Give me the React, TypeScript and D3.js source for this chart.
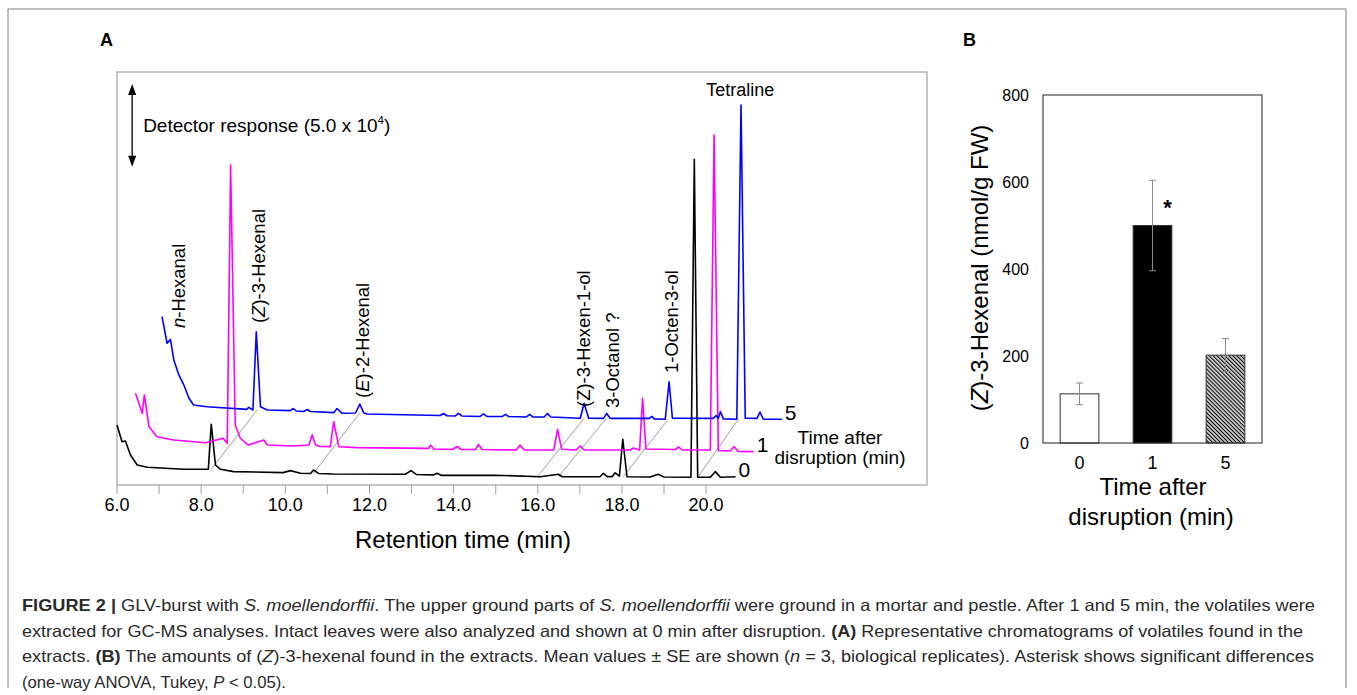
import React, { useEffect, useRef } from 'react';
import * as d3 from 'd3';

// Panel A: chromatograms as plotted, [retention time (min), response (x10^4)]
const trace0 = [[6.00,3.63],[6.12,2.62],[6.20,2.66],[6.32,1.82],[6.48,1.21],[6.72,1.07],[7.58,0.95],[8.17,0.95],[8.24,3.67],[8.34,1.21],[8.46,0.95],[8.77,0.81],[9.95,0.75],[10.12,0.87],[10.36,0.71],[10.60,0.70],[10.67,0.91],[10.79,0.70],[11.14,0.67],[12.85,0.65],[12.99,0.87],[13.11,0.64],[13.52,0.61],[13.61,0.71],[13.71,0.58],[14.99,0.59],[16.06,0.50],[16.49,0.65],[16.58,0.50],[17.48,0.50],[17.56,0.71],[17.65,0.51],[17.77,0.51],[17.84,0.74],[17.94,0.54],[18.02,2.77],[18.12,0.50],[18.67,0.48],[18.86,0.65],[19.00,0.48],[19.64,0.47],[19.72,19.72],[19.80,0.47],[20.10,0.47],[20.22,0.81],[20.34,0.47],[20.70,0.50]];
const trace1 = [[6.44,5.55],[6.60,4.34],[6.65,5.45],[6.76,3.53],[6.95,2.92],[7.35,2.72],[8.10,2.56],[8.52,2.83],[8.62,2.52],[8.70,19.37],[8.81,3.63],[8.93,2.83],[9.12,2.42],[9.49,2.72],[9.57,2.42],[10.20,2.36],[10.56,2.42],[10.64,3.03],[10.72,2.42],[10.83,2.33],[11.07,2.32],[11.15,3.83],[11.27,2.32],[11.71,2.26],[13.41,2.22],[13.45,2.42],[13.53,2.18],[13.97,2.15],[14.08,2.33],[14.18,2.15],[14.52,2.15],[14.59,2.45],[14.68,2.15],[15.49,2.12],[15.58,2.42],[15.68,2.12],[16.38,2.12],[16.47,3.37],[16.57,2.16],[16.91,2.12],[17.01,2.36],[17.10,2.12],[18.20,2.12],[18.27,2.24],[18.42,2.12],[18.49,5.25],[18.57,2.18],[19.27,2.15],[19.35,2.30],[19.43,2.12],[20.10,2.12],[20.19,21.19],[20.29,2.09],[20.57,2.06],[20.67,2.32],[20.76,2.03],[21.13,2.02]];
const trace5 = [[7.07,10.19],[7.19,8.58],[7.27,8.82],[7.35,7.57],[7.47,6.66],[7.59,6.05],[7.71,5.25],[7.82,4.84],[8.14,4.74],[9.09,4.58],[9.13,4.70],[9.23,4.54],[9.31,9.28],[9.41,4.74],[9.57,4.54],[10.12,4.50],[10.19,4.63],[10.26,4.48],[10.43,4.45],[10.52,4.57],[10.60,4.45],[11.15,4.38],[11.23,4.63],[11.35,4.34],[11.67,4.36],[11.77,4.90],[11.86,4.38],[11.94,4.30],[13.68,4.21],[13.76,4.33],[13.84,4.19],[14.04,4.18],[14.12,4.34],[14.19,4.18],[14.63,4.15],[14.71,4.30],[14.79,4.15],[15.16,4.15],[15.23,4.27],[15.30,4.15],[15.73,4.12],[15.81,4.27],[15.88,4.12],[16.15,4.12],[16.23,4.33],[16.31,4.12],[17.01,4.04],[17.10,4.95],[17.21,4.04],[17.56,4.03],[17.64,4.33],[17.72,4.03],[18.65,4.03],[18.71,4.15],[18.77,4.00],[19.03,3.98],[19.12,6.25],[19.20,4.04],[20.17,4.03],[20.24,4.21],[20.29,4.03],[20.34,4.44],[20.41,4.00],[20.73,3.98],[20.83,23.0],[20.93,4.04],[21.21,4.03],[21.28,4.42],[21.36,3.98],[21.80,3.98]];
const traces = [trace0, trace1, trace5];
const traceNames = ['0', '1', '5'];
const traceColors = ['#000000', '#ff00ff', '#0000ff'];

// same compound: black (0 min) peak -> blue (5 min) peak
const linkFrom = [8.24, 10.67, 15.99, 16.49, 18.03, 19.80];
const linkTo = [9.33, 11.77, 17.10, 17.63, 19.10, 20.77];

// rotated peak labels, parts are [text, italic]
const peakLabelParts = [
  [['n', 1], ['-Hexanal', 0]],
  [['(', 0], ['Z', 1], [')-3-Hexenal', 0]],
  [['(', 0], ['E', 1], [')-2-Hexenal', 0]],
  [['(Z)-3-Hexen-1-ol', 0]],
  [['3-Octanol ?', 0]],
  [['1-Octen-3-ol', 0]],
];
const peakLabelTime = [7.46, 9.36, 11.83, 17.08, 17.77, 19.19];
const peakLabelLevel = [9.5, 9.8, 5.27, 4.72, 4.66, 6.78];

const xTicks = d3.range(6, 20.01, 1);
const xLabels = d3.range(6, 20.01, 2);
const arrowTop = 24.27;
const arrowSpan = 5.0;

// Panel B
const groups = ['0', '1', '5'];
const hexenal = [113, 500, 202];
const hexenalSE = [25, 104, 38];
const yTicksB = [0, 200, 400, 600, 800];

const captionLines = [
  [['FIGURE 2 | ', 'b'], ['GLV-burst with ', ''], ['S. moellendorffii', 'i'], ['. The upper ground parts of ', ''], ['S. moellendorffii', 'i'], [' were ground in a mortar and pestle. After 1 and 5 min, the volatiles were', '']],
  [['extracted for GC-MS analyses. Intact leaves were also analyzed and shown at 0 min after disruption. ', ''], ['(A)', 'b'], [' Representative chromatograms of volatiles found in the', '']],
  [['extracts. ', ''], ['(B)', 'b'], [' The amounts of (', ''], ['Z', 'i'], [')-3-hexenal found in the extracts. Mean values \u00b1 SE are shown (', ''], ['n', 'i'], [' = 3, biological replicates). Asterisk shows significant differences', '']],
  [['(one-way ANOVA, Tukey, ', ''], ['P', 'i'], [' < 0.05).', '']],
];
const captionWidths = [1293, 1281, 1292, 264];

const FONT = "'Liberation Sans', Arial, Helvetica, sans-serif";

export default function App() {
  const ref = useRef<SVGSVGElement>(null);

  useEffect(() => {
    const svg = d3.select(ref.current);
    svg.selectAll('*').remove();
    svg.attr('font-family', FONT);

    // outer figure border
    svg.append('path')
      .attr('d', 'M8,688 L8,9 L1346,9 L1346,688')
      .attr('fill', 'none')
      .attr('stroke', '#808080')
      .attr('stroke-width', 1);

    // ---------- panel A ----------
    const x = d3.scaleLinear().domain([6, 25.25]).range([117, 927]);
    const y = d3.scaleLinear().domain([0, 25]).range([485, 72]);

    svg.append('text').attr('x', 100).attr('y', 46)
      .attr('font-size', 18).attr('font-weight', 'bold').text('A');

    svg.append('rect')
      .attr('x', 117).attr('y', 72).attr('width', 810).attr('height', 413)
      .attr('fill', 'none').attr('stroke', '#a8a8a8').attr('stroke-width', 1.3);

    svg.selectAll('.xtick').data(xTicks).join('line')
      .attr('x1', d => x(d)).attr('x2', d => x(d))
      .attr('y1', 485).attr('y2', 494)
      .attr('stroke', '#a0a0a0').attr('stroke-width', 1);
    svg.selectAll('.xlab').data(xLabels).join('text')
      .attr('x', d => x(d)).attr('y', 511)
      .attr('text-anchor', 'middle').attr('font-size', 18)
      .text(d => d3.format('.1f')(d));
    svg.append('text').attr('x', 463).attr('y', 548)
      .attr('text-anchor', 'middle').attr('font-size', 24)
      .text('Retention time (min)');

    // detector scale arrow
    const ax = x(6.36);
    const aTop = y(arrowTop);
    const aBot = y(arrowTop - arrowSpan);
    svg.append('line').attr('x1', ax).attr('x2', ax).attr('y1', aTop + 6).attr('y2', aBot - 6)
      .attr('stroke', '#000').attr('stroke-width', 1.3);
    svg.append('path')
      .attr('d', `M${ax},${aTop} L${ax - 4},${aTop + 11} L${ax + 4},${aTop + 11} Z M${ax},${aBot} L${ax - 4},${aBot - 11} L${ax + 4},${aBot - 11} Z`)
      .attr('fill', '#000');
    const det = svg.append('text').attr('x', ax + 11).attr('y', (aTop + aBot) / 2 + 6.5)
      .attr('font-size', 19);
    det.append('tspan').text('Detector response (5.0 x 10');
    det.append('tspan').attr('font-size', 11.5).attr('dy', -8).text('4');
    det.append('tspan').attr('dy', 8).text(')');

    // links between corresponding peaks
    const footAt = (pts, t) => {
      let best = Infinity;
      pts.forEach(p => { if (Math.abs(p[0] - t) <= 0.16) best = Math.min(best, p[1]); });
      if (best === Infinity) {
        const i = d3.bisector(p => p[0]).left(pts, t);
        best = pts[Math.min(i, pts.length - 1)][1];
      }
      return best;
    };
    svg.selectAll('.link').data(linkFrom).join('line')
      .attr('x1', d => x(d)).attr('y1', d => y(footAt(trace0, d)))
      .attr('x2', (d, i) => x(linkTo[i])).attr('y2', (d, i) => y(footAt(trace5, linkTo[i])))
      .attr('stroke', '#777').attr('stroke-width', 0.7);

    const line = d3.line().x(d => x(d[0])).y(d => y(d[1]));
    svg.selectAll('.trace').data(traces).join('path')
      .attr('d', d => line(d))
      .attr('fill', 'none')
      .attr('stroke', (d, i) => traceColors[i])
      .attr('stroke-width', 1.6)
      .attr('stroke-linejoin', 'round');

    svg.selectAll('.tname').data(traces).join('text')
      .attr('x', d => x(d[d.length - 1][0]) + 3)
      .attr('y', d => y(d[d.length - 1][1]) + 0.5)
      .attr('font-size', 21)
      .text((d, i) => traceNames[i]);

    svg.append('text').attr('x', 840).attr('y', 443.5)
      .attr('text-anchor', 'middle').attr('font-size', 19).text('Time after');
    svg.append('text').attr('x', 840).attr('y', 463.5)
      .attr('text-anchor', 'middle').attr('font-size', 19).text('disruption (min)');

    peakLabelParts.forEach((parts, i) => {
      const px = x(peakLabelTime[i]);
      const py = y(peakLabelLevel[i]);
      const t = svg.append('text')
        .attr('transform', `translate(${px},${py}) rotate(-90)`)
        .attr('dy', '0.35em')
        .attr('font-size', 18.5);
      parts.forEach(p => {
        t.append('tspan').attr('font-style', p[1] ? 'italic' : 'normal').text(p[0]);
      });
    });
    svg.append('text').attr('x', x(20.81)).attr('y', y(23.55))
      .attr('text-anchor', 'middle').attr('font-size', 18).text('Tetraline');

    // ---------- panel B ----------
    svg.append('text').attr('x', 963).attr('y', 46)
      .attr('font-size', 18).attr('font-weight', 'bold').text('B');

    const xb = d3.scaleBand().domain(groups).range([1043, 1262]).paddingInner(0.47).paddingOuter(0.235);
    const yb = d3.scaleLinear().domain([0, 800]).range([443, 95]);

    const defs = svg.append('defs');
    const pat = defs.append('pattern').attr('id', 'hatch')
      .attr('patternUnits', 'userSpaceOnUse').attr('width', 2.8).attr('height', 2.8)
      .attr('patternTransform', 'rotate(-45)');
    pat.append('rect').attr('width', 2.8).attr('height', 2.8).attr('fill', '#fff');
    pat.append('line').attr('x1', 1.4).attr('x2', 1.4).attr('y1', 0).attr('y2', 2.8)
      .attr('stroke', '#000').attr('stroke-width', 1.35);

    const fills = ['#ffffff', '#000000', 'url(#hatch)'];
    svg.selectAll('.bar').data(hexenal).join('rect')
      .attr('x', (d, i) => xb(groups[i]))
      .attr('y', d => yb(d))
      .attr('width', xb.bandwidth())
      .attr('height', d => yb(0) - yb(d))
      .attr('fill', (d, i) => fills[i])
      .attr('stroke', '#333').attr('stroke-width', 1);

    const cx = i => xb(groups[i]) + xb.bandwidth() / 2;
    svg.selectAll('.err').data(hexenal).join('path')
      .attr('d', (d, i) => {
        const hi = yb(d + hexenalSE[i]);
        const lo = yb(d - hexenalSE[i]);
        const c = cx(i);
        return `M${c},${hi} L${c},${lo} M${c - 3.5},${hi} L${c + 3.5},${hi} M${c - 3.5},${lo} L${c + 3.5},${lo}`;
      })
      .attr('fill', 'none').attr('stroke', '#8a8a8a').attr('stroke-width', 1);

    svg.append('text').attr('x', cx(1) + 15).attr('y', yb(hexenal[1] + hexenalSE[1]) + 35)
      .attr('text-anchor', 'middle').attr('font-size', 22).attr('font-weight', 'bold').text('*');

    svg.append('rect')
      .attr('x', 1043).attr('y', 95).attr('width', 219).attr('height', 348)
      .attr('fill', 'none').attr('stroke', '#222').attr('stroke-width', 1);

    svg.selectAll('.ytb').data(yTicksB).join('text')
      .attr('x', 1029).attr('y', d => yb(d)).attr('dy', '0.35em')
      .attr('text-anchor', 'end').attr('font-size', 16)
      .text(d => d);

    svg.selectAll('.xcat').data(groups).join('text')
      .attr('x', (d, i) => cx(i)).attr('y', 469)
      .attr('text-anchor', 'middle').attr('font-size', 18)
      .text(d => d);

    svg.append('text').attr('x', 1153).attr('y', 495)
      .attr('text-anchor', 'middle').attr('font-size', 24).text('Time after');
    svg.append('text').attr('x', 1151).attr('y', 525)
      .attr('text-anchor', 'middle').attr('font-size', 24).text('disruption (min)');

    const yt = svg.append('text')
      .attr('transform', 'translate(988,268) rotate(-90)')
      .attr('text-anchor', 'middle').attr('font-size', 24);
    yt.append('tspan').text('(');
    yt.append('tspan').attr('font-style', 'italic').text('Z');
    yt.append('tspan').text(')-3-Hexenal (nmol/g FW)');

    // ---------- caption ----------
    captionLines.forEach((parts, i) => {
      const t = svg.append('text')
        .attr('x', 22).attr('y', 611 + i * 25.7)
        .attr('font-family', "'Liberation Sans Narrow', 'Liberation Sans', Arial, sans-serif")
        .attr('font-size', 16.5)
        .attr('fill', '#2a2a2a')
        .attr('textLength', captionWidths[i])
        .attr('lengthAdjust', 'spacingAndGlyphs')
        .style('white-space', 'pre');
      parts.forEach(p => {
        t.append('tspan')
          .attr('font-weight', p[1] === 'b' ? 'bold' : 'normal')
          .attr('font-style', p[1] === 'i' ? 'italic' : 'normal')
          .text(p[0]);
      });
    });
  }, []);

  return (
    <svg ref={ref} width={1357} height={695}
      style={{ position: 'absolute', left: 0, top: 0, background: '#fff' }} />
  );
}
